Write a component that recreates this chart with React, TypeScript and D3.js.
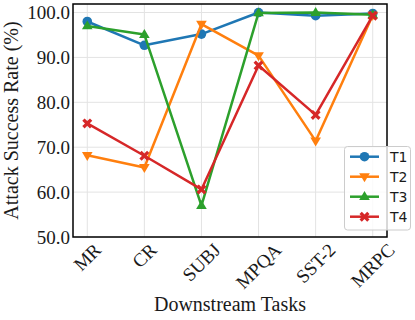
import React, { useEffect, useRef } from "react";
import * as d3 from "d3";

const tasks = ["MR", "CR", "SUBJ", "MPQA", "SST-2", "MRPC"];
const t1 = [98.0, 92.7, 95.2, 100.0, 99.3, 99.8];
const t2 = [68.2, 65.5, 97.4, 90.4, 71.4, 99.4];
const t3 = [97.0, 95.1, 57.0, 99.9, 100.0, 99.5];
const t4 = [75.3, 68.1, 60.6, 88.2, 77.2, 99.3];
const seriesNames = ["T1", "T2", "T3", "T4"];
const yTicks = [50, 60, 70, 80, 90, 100];

const colors = ["#1f77b4", "#ff7f0e", "#2ca02c", "#d62728"];
const markers = ["circle", "tridown", "triup", "x"];

const W = 415;
const H = 320;
const M = { left: 73, right: 387, top: 4, bottom: 237 };
const serif = "'Liberation Serif', 'Times New Roman', serif";

// marker path centred at 0,0
const markerPath = (type: string) => {
  if (type === "circle") return d3.symbol(d3.symbolCircle, Math.PI * 4.8 * 4.8)()!;
  const r = 5.6;
  if (type === "triup") return `M0,${-r}L${r * 0.95},${r * 0.6}L${-r * 0.95},${r * 0.6}Z`;
  if (type === "tridown") return `M0,${r}L${r * 0.95},${-r * 0.6}L${-r * 0.95},${-r * 0.6}Z`;
  // filled X
  const a = 5, b = 2.3;
  const pts = [
    [0, -b], [a - b, -a], [a, -a + b], [b, 0], [a, a - b], [a - b, a],
    [0, b], [-a + b, a], [-a, a - b], [-b, 0], [-a, -a + b], [-a + b, -a],
  ];
  return "M" + pts.map(p => p.join(",")).join("L") + "Z";
};

const Chart = () => {
  const ref = useRef<SVGSVGElement>(null);

  useEffect(() => {
    const svg = d3.select(ref.current);
    svg.selectAll("*").remove();

    const x = d3.scalePoint().domain(tasks).range([M.left, M.right]).padding(0.25);
    const y = d3.scaleLinear().domain([50, 101.9]).range([M.bottom, M.top]);

    const grid = svg.append("g");
    grid.selectAll("line.v").data(tasks).join("line")
      .attr("x1", d => x(d)!).attr("x2", d => x(d)!)
      .attr("y1", M.top).attr("y2", M.bottom)
      .attr("stroke", "#e3e3e3").attr("stroke-width", 1);
    grid.selectAll("line.h").data(yTicks).join("line")
      .attr("x1", M.left).attr("x2", M.right)
      .attr("y1", d => y(d)).attr("y2", d => y(d))
      .attr("stroke", "#e3e3e3").attr("stroke-width", 1);

    // y tick labels
    svg.append("g").selectAll("text").data(yTicks).join("text")
      .attr("x", 70).attr("y", d => y(d))
      .attr("text-anchor", "end").attr("dominant-baseline", "central")
      .attr("font-family", serif).attr("font-size", 19).attr("fill", "#1a1a1a")
      .text(d => d3.format(".1f")(d));

    // x tick labels, rotated 45 and centred under each tick
    const xl = svg.append("g");
    tasks.forEach(t => {
      const txt = xl.append("text")
        .attr("font-family", serif).attr("font-size", 19).attr("fill", "#1a1a1a")
        .attr("text-anchor", "middle").attr("dominant-baseline", "central")
        .text(t);
      const w = (txt.node() as SVGTextElement).getComputedTextLength();
      const h = 13;
      const cy = 242 + (w + h) * 0.3536;
      txt.attr("transform", `translate(${x(t)},${cy}) rotate(-45)`);
    });

    // axis labels
    svg.append("text")
      .attr("x", (M.left + M.right) / 2).attr("y", 311)
      .attr("text-anchor", "middle")
      .attr("font-family", serif).attr("font-size", 20).attr("fill", "#1a1a1a")
      .text("Downstream Tasks");
    svg.append("text")
      .attr("transform", `translate(18,${(M.top + M.bottom) / 2}) rotate(-90)`)
      .attr("text-anchor", "middle")
      .attr("font-family", serif).attr("font-size", 20).attr("fill", "#1a1a1a")
      .text("Attack Success Rate (%)");

    const all = [t1, t2, t3, t4];
    const line = d3.line<number>().x((_, i) => x(tasks[i])!).y(d => y(d));
    all.forEach((vals, k) => {
      const g = svg.append("g");
      g.append("path").attr("d", line(vals)!)
        .attr("fill", "none").attr("stroke", colors[k]).attr("stroke-width", 2.5)
        .attr("stroke-linejoin", "round");
      g.selectAll("path.m").data(vals).join("path")
        .attr("d", markerPath(markers[k]))
        .attr("transform", (d, i) => `translate(${x(tasks[i])},${y(d)})`)
        .attr("fill", colors[k]);
    });

    // frame
    svg.append("rect")
      .attr("x", M.left).attr("y", M.top)
      .attr("width", M.right - M.left).attr("height", M.bottom - M.top)
      .attr("fill", "none").attr("stroke", "#000").attr("stroke-width", 1.5);

    // legend
    const lg = svg.append("g");
    lg.append("rect")
      .attr("x", 344.5).attr("y", 146.5).attr("width", 66).attr("height", 83.5)
      .attr("rx", 3).attr("fill", "white").attr("fill-opacity", 0.8)
      .attr("stroke", "#cccccc").attr("stroke-width", 1);
    seriesNames.forEach((name, k) => {
      const ly = 156.7 + k * 20;
      lg.append("line").attr("x1", 350).attr("x2", 379).attr("y1", ly).attr("y2", ly)
        .attr("stroke", colors[k]).attr("stroke-width", 2.5);
      lg.append("path").attr("d", markerPath(markers[k]))
        .attr("transform", `translate(364.5,${ly})`).attr("fill", colors[k]);
      lg.append("text").attr("x", 390).attr("y", ly)
        .attr("dominant-baseline", "central")
        .attr("font-family", "'DejaVu Sans', sans-serif").attr("font-size", 14)
        .attr("fill", "#1a1a1a").text(name);
    });
  }, []);

  return <svg ref={ref} width={W} height={H} style={{ display: "block" }} />;
};

export default function App() {
  return (
    <div style={{ position: "absolute", left: 0, top: 0 }}>
      <Chart />
    </div>
  );
}
